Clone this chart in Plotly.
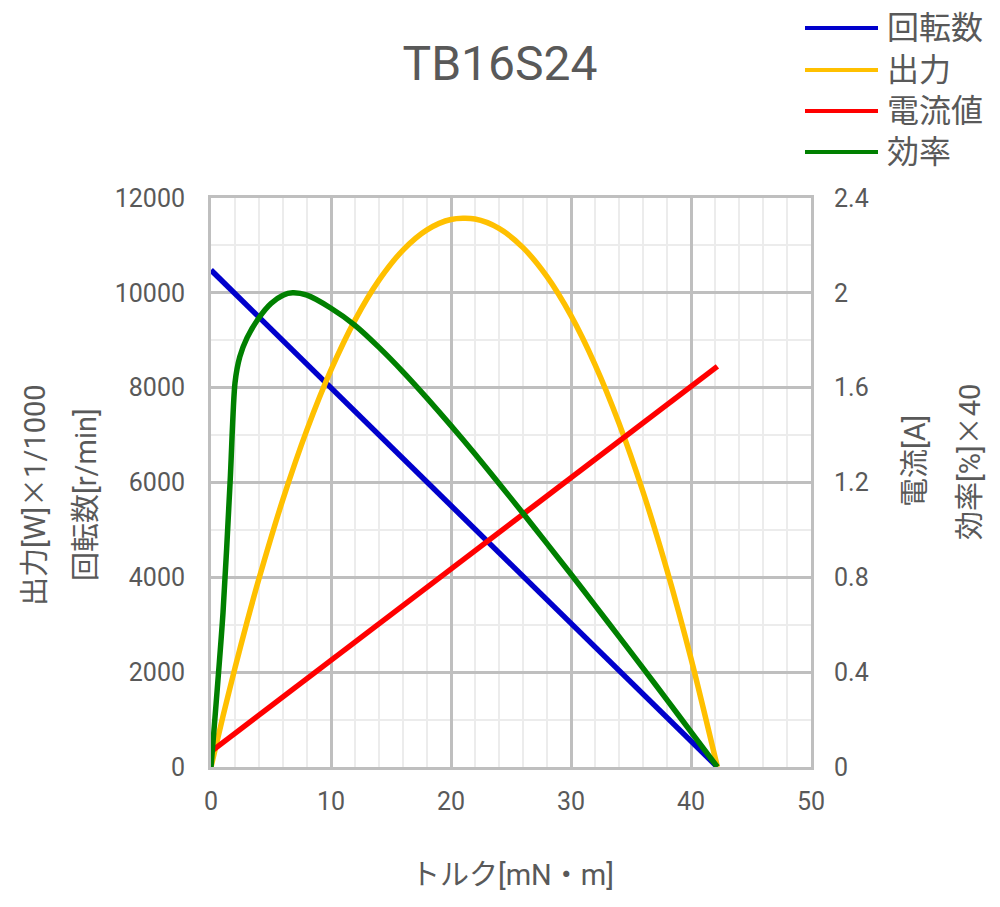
import plotly.graph_objects as go

# ---- data ----
torque_line = [0, 42.2]
speed = [10480, 0]                 # r/min (left axis)
current = [0.065, 1.69]            # A (right axis)

torque = [0, 1, 2, 3, 4, 6, 8, 10, 12, 14, 16, 18, 20, 22, 24, 26, 28, 30,
          32, 34, 36, 38, 40, 42.2]
output = [0, 1072, 2091, 3058, 3974, 5649, 7115, 8374, 9425, 10267, 10902,
          11328, 11546, 11557, 11360, 10953, 10341, 9519, 8488, 7250, 5805,
          4151, 2288, 0]           # W x 1/1000 (left axis)

eff_torque = [0, 1.0, 1.6, 2.0, 2.4, 3, 4, 5, 6, 6.8, 8, 10, 12, 14, 16, 18,
              20, 22, 24, 26, 28, 30, 32, 34, 36, 38, 40, 42.2]
efficiency = [0, 0.65, 1.21, 1.62, 1.73, 1.81, 1.895, 1.955, 1.99, 2.0, 1.99,
              1.935, 1.863, 1.77, 1.667, 1.556, 1.44, 1.32, 1.196, 1.07,
              0.942, 0.813, 0.682, 0.55, 0.417, 0.283, 0.148, 0]  # %/40 (right axis)

names = ["回転数", "出力", "電流値", "効率"]
colors = ["#0000CC", "#FFC000", "#FF0000", "#008000"]

FONT = "Roboto, 'Noto Sans CJK JP', 'Noto Sans', sans-serif"
TXT = "#595959"
W, H = 1000, 907
L, R, T, B = 211, 189, 198, 140
PW, PH = W - L - R, H - T - B

def px(x):
    return (x - L) / PW

def py(y):
    return (H - B - y) / PH

times = "<span style=\"font-family:'Noto Sans CJK JP'\">×</span>"

fig = go.Figure()
fig.add_trace(go.Scatter(x=torque_line, y=speed, mode="lines", name=names[0],
                         line=dict(color=colors[0], width=5.5)))
fig.add_trace(go.Scatter(x=torque, y=output, mode="lines", name=names[1],
                         line=dict(color=colors[1], width=5.5, shape="spline", smoothing=0.8)))
fig.add_trace(go.Scatter(x=torque_line, y=current, mode="lines", name=names[2],
                         line=dict(color=colors[2], width=5.5), yaxis="y2"))
fig.add_trace(go.Scatter(x=eff_torque, y=efficiency, mode="lines", name=names[3],
                         line=dict(color=colors[3], width=5.5, shape="spline", smoothing=0.7),
                         yaxis="y2"))

grid_major = "#BFBFBF"
grid_minor = "#ECECEC"
TICK = 25

fig.update_layout(
    width=W, height=H,
    margin=dict(l=L, r=R, t=T, b=B),
    paper_bgcolor="white", plot_bgcolor="white",
    showlegend=False,
    font=dict(family=FONT, color=TXT, size=TICK),
    title=dict(text="TB16S24", x=0.5, xanchor="center", y=1 - 63 / H, yanchor="middle",
               font=dict(family=FONT, size=48, color=TXT)),
    xaxis=dict(range=[0, 50], dtick=10, tick0=0, showgrid=True, gridcolor=grid_major,
               gridwidth=3, zeroline=False, showline=True, linecolor=grid_major,
               linewidth=3, mirror=True, ticks="", ticklabelstandoff=10,
               tickfont=dict(size=TICK, color=TXT),
               minor=dict(dtick=2, showgrid=True, gridcolor=grid_minor, gridwidth=1.5)),
    yaxis=dict(range=[0, 12000], dtick=2000, tick0=0, tickformat="d", showgrid=True,
               gridcolor=grid_major, gridwidth=3, zeroline=False, showline=True,
               linecolor=grid_major, linewidth=3, mirror=True, ticks="",
               ticklabelstandoff=18, tickfont=dict(size=TICK, color=TXT),
               minor=dict(dtick=1000, showgrid=True, gridcolor=grid_minor, gridwidth=1.5)),
    yaxis2=dict(range=[0, 2.4], dtick=0.4, tick0=0, overlaying="y", side="right",
                showgrid=False, zeroline=False, ticks="", ticklabelstandoff=22,
                tickfont=dict(size=TICK, color=TXT)),
)

ann = [
    dict(text="トルク[mN・m]", x=px(512), y=py(875), size=29, angle=0),
    dict(text="出力[W]" + times + "1/1000", x=px(32), y=py(495), size=29, angle=-90),
    dict(text="回転数[r/min]", x=px(86), y=py(495), size=29, angle=-90),
    dict(text="電流[A]", x=px(915), y=py(461), size=29, angle=-90),
    dict(text="効率[%]" + times + "40", x=px(967), y=py(462), size=29, angle=-90),
]
for a in ann:
    fig.add_annotation(text=a["text"], x=a["x"], y=a["y"], xref="paper", yref="paper",
                       xanchor="center", yanchor="middle", showarrow=False,
                       textangle=a["angle"], font=dict(family=FONT, size=a["size"], color=TXT))

# legend (drawn manually to match the long line samples)
leg_y = [28, 70, 111, 152]
for name, col, yy in zip(names, colors, leg_y):
    fig.add_shape(type="line", xref="paper", yref="paper", x0=px(805), x1=px(878),
                  y0=py(yy), y1=py(yy), line=dict(color=col, width=4))
    fig.add_annotation(text=name, x=px(885), y=py(yy), xref="paper", yref="paper",
                       xanchor="left", yanchor="middle", showarrow=False,
                       font=dict(family=FONT, size=32, color=TXT))

fig.write_html("out.html")
